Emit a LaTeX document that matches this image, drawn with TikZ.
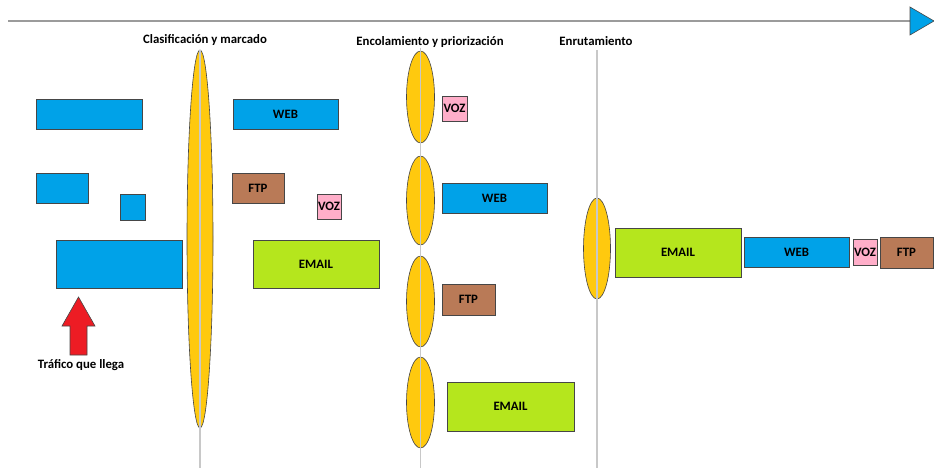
\documentclass[tikz,border=0pt]{standalone}
\usepackage{fontspec}
\setmainfont{Carlito}
\usetikzlibrary{shapes.geometric}
\definecolor{pktblue}{RGB}{0,162,232}
\definecolor{pktgreen}{RGB}{181,230,29}
\definecolor{pktbrown}{RGB}{185,122,87}
\definecolor{pktpink}{RGB}{255,174,201}
\definecolor{pktred}{RGB}{237,28,36}
\definecolor{lensyellow}{RGB}{255,201,14}
\definecolor{edgegrey}{RGB}{70,70,70}
\definecolor{railgrey}{RGB}{200,200,200}
\definecolor{axisgrey}{RGB}{155,155,155}
\begin{document}
\begin{tikzpicture}[x=1pt,y=-1pt,
  every node/.style={font=\fontsize{12.8}{14}\selectfont\bfseries, inner sep=0pt, outer sep=0pt},
  packet/.style={draw=edgegrey, line width=0.8pt, rectangle},
  pblue/.style={packet, fill=pktblue},
  pgreen/.style={packet, fill=pktgreen},
  pbrown/.style={packet, fill=pktbrown},
  ppink/.style={packet, fill=pktpink},
  lens/.style={draw=edgegrey, line width=0.6pt, fill=lensyellow, ellipse},
  rail/.style={draw=railgrey, line width=1.6pt},
  stage/.style={anchor=center},
]
\useasboundingbox (0,0) rectangle (934,468);

% time axis
\coordinate (axisstart) at (8,21);
\coordinate (axisend) at (910,21);
\draw[draw=axisgrey, line width=1.8pt] (axisstart) -- (axisend);
\draw[draw=edgegrey, line width=0.6pt, fill=pktblue] (910,7) -- (934,21) -- (910,35) -- cycle;

% stage titles
\node[stage] (t1) at (205,40) {Clasificación y marcado};
\node[stage] (t2) at (430,42) {Encolamiento y priorización};
\node[stage] (t3) at (596,41) {Enrutamiento};

% incoming traffic
\node[pblue, minimum width=106pt, minimum height=30pt] (in1) at (89,114) {};
\node[pblue, minimum width=52pt, minimum height=30pt] (in2) at (62,188) {};
\node[pblue, minimum width=25pt, minimum height=26pt] (in3) at (132.5,207) {};
\node[pblue, minimum width=126pt, minimum height=48pt] (in4) at (119,264) {};
\draw[draw=edgegrey, line width=0.6pt, fill=pktred]
  (62,326) -- (78.5,297) -- (95,326) -- (87,326) -- (87,355) -- (70,355) -- (70,326) -- cycle;
\node[stage] (inlabel) at (81,365) {Tráfico que llega};

% classification
\node[lens, minimum width=26pt, minimum height=378pt] (cls) at (200,239) {};
\coordinate (clsbot) at (200,468);
\draw[rail] (cls.north) -- (clsbot);

\node[pblue, minimum width=105pt, minimum height=30pt] (c1) at (285.5,114) {WEB};
\node[pbrown, minimum width=52pt, minimum height=30pt] (c2) at (258,188) {FTP};
\node[ppink, minimum width=24pt, minimum height=25pt] (c3) at (329,206.5) {VOZ};
\node[pgreen, minimum width=126pt, minimum height=48pt] (c4) at (316,264) {EMAIL};

% queueing
\node[lens, minimum width=28pt, minimum height=92pt] (q1) at (420.5,97) {};
\node[lens, minimum width=28pt, minimum height=89pt] (q2) at (420.5,200.5) {};
\node[lens, minimum width=28pt, minimum height=91pt] (q3) at (420.5,301.5) {};
\node[lens, minimum width=28pt, minimum height=91pt] (q4) at (420.5,402.5) {};
\coordinate (qtop) at (420.5,48);
\coordinate (qbot) at (420.5,468);
\draw[rail] (qtop) -- (qbot);

\node[ppink, minimum width=25pt, minimum height=25pt] (k1) at (454.5,108.5) {VOZ};
\node[pblue, minimum width=105pt, minimum height=30pt] (k2) at (494.5,198) {WEB};
\node[pbrown, minimum width=53pt, minimum height=31pt] (k3) at (468.5,299.5) {FTP};
\node[pgreen, minimum width=127pt, minimum height=49pt] (k4) at (510.5,406.5) {EMAIL};

% routing
\node[lens, minimum width=27pt, minimum height=101pt] (rt) at (597,248.5) {};
\coordinate (rtop) at (597,50);
\coordinate (rbot) at (597,468);
\draw[rail] (rtop) -- (rbot);

\node[pgreen, minimum width=126pt, minimum height=49pt] (r1) at (678,252.5) {EMAIL};
\node[pblue, minimum width=105pt, minimum height=30pt] (r2) at (796.5,252) {WEB};
\node[ppink, minimum width=24pt, minimum height=26pt] (r3) at (865,252) {VOZ};
\node[pbrown, minimum width=53pt, minimum height=31pt] (r4) at (906.5,252.5) {FTP};
\end{tikzpicture}
\end{document}
